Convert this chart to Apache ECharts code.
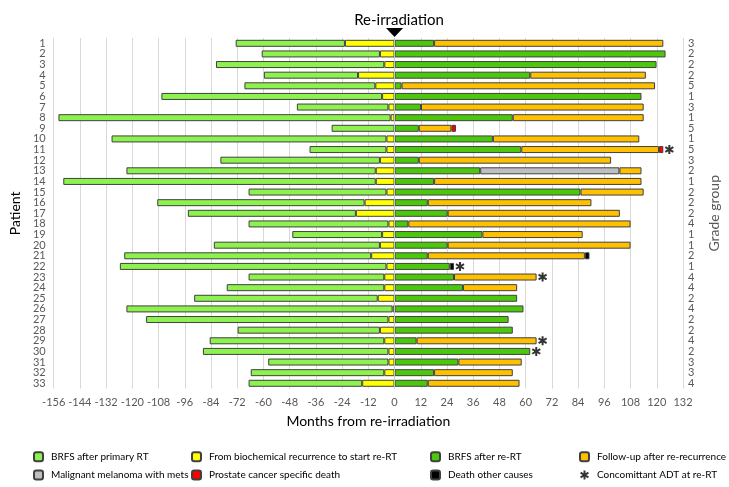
<!DOCTYPE html>
<html>
<head>
<meta charset="utf-8">
<script src="https://cdn.jsdelivr.net/npm/echarts@6/dist/echarts.min.js"></script>
<style>html,body{margin:0;padding:0;background:#fff}#c{width:729px;height:487px}</style>
</head>
<body>
<div id="c"></div>
<script>
// ---- data (months) ----
const patients = ['1','2','3','4','5','6','7','8','9','10','11','12','13','14','15','16','17','18','19','20','21','22','23','24','25','26','27','28','29','30','31','32','33'];
const gradeGroup = [3,2,2,2,5,1,3,1,5,1,5,3,2,1,2,2,2,4,1,1,2,1,4,4,2,4,2,2,4,2,3,3,4];
// durations before re-irradiation
const brfsPrimary = [50,54.1,77,43.1,59.9,101,41.9,152,28.8,125.8,35.2,73,114.1,143,63.1,94.9,76.9,64,41.1,76,113,122,62.1,72.1,84,121.8,110.9,65.1,79.9,84.9,55,61.1,52];
const recurToReRT = [22.7,6.7,4.7,16.7,8.8,5.7,2.8,1.8,0,3.7,3.7,6.7,8.6,8.6,3.7,13.7,17.7,2.8,5.7,6.7,10.7,3.7,4.7,4.7,7.7,0.9,2.8,6.7,4.7,2.8,2.8,4.7,14.8];
// durations after re-irradiation
const brfsReRT = [18.1,124,119.9,62.1,3.2,113,12.1,54.1,11.1,45,58,11.1,39.2,18.1,85.1,15.2,24.3,6.3,40.2,24.3,15.2,25.3,27.2,31.3,56.1,59,52.2,54.1,10.1,62.1,29.2,18.1,15.2];
const melanoma = [0,0,0,0,0,0,0,0,0,0,0,0,63.7,0,0,0,0,0,0,0,0,0,0,0,0,0,0,0,0,0,0,0,0];
const followUp = [104.9,0,0,52.9,116,0,101.9,59.9,14.9,67,63,88,10.1,94.9,28.9,74.9,78.8,101.7,45.9,83.7,71.9,0,37.8,24.8,0,0,0,0,54.9,0,29,36,42];
const pcDeath = [0,0,0,0,0,0,0,0,2.1,0,2,0,0,0,0,0,0,0,0,0,0,0,0,0,0,0,0,0,0,0,0,0,0];
const otherDeath = [0,0,0,0,0,0,0,0,0,0,0,0,0,0,0,0,0,0,0,0,2.1,1.9,0,0,0,0,0,0,0,0,0,0,0];
const adtPatients = ['11','22','23','29','30'];
const xTicks = {min:-156, max:132, interval:12};

const FONT = "Lato, 'Open Sans', sans-serif";
const nz = v => v === 0 ? null : v;
const border = {borderColor:'#404040', borderWidth:1};
const ASTER = 'path://M4.2,-3.9L5.4,-1.8L-4.2,3.9L-5.4,1.8Z M-5.4,-1.8L-4.2,-3.9L5.4,1.8L4.2,3.9Z M-1.2,-5.5L1.2,-5.5L1.2,5.5L-1.2,5.5Z';

function barSeries(name, arr, color, neg) {
  return {
    name: name, type: 'bar', stack: 'all', barWidth: 7,
    itemStyle: Object.assign({color: color}, border),
    emphasis: {disabled: true},
    data: arr.map(v => nz(v) === null ? null : (neg ? -v : v))
  };
}
const endAfter = patients.map((p,i) => brfsReRT[i]+melanoma[i]+followUp[i]+pcDeath[i]+otherDeath[i]);

const series = [
  barSeries('From biochemical recurrence to start re-RT', recurToReRT, '#ffff00', true),
  barSeries('BRFS after primary RT', brfsPrimary, '#8ef24e', true),
  barSeries('BRFS after re-RT', brfsReRT, '#4cc80c', false),
  barSeries('Malignant melanoma with mets', melanoma, '#bfbfbf', false),
  barSeries('Follow-up after re-recurrence', followUp, '#ffc000', false),
  barSeries('Prostate cancer specific death', pcDeath, '#ff0000', false),
  barSeries('Death other causes', otherDeath, '#000000', false),
  {
    name: 'Concomittant ADT at re-RT', type: 'scatter',
    symbol: ASTER, symbolSize: 9, symbolOffset: [6, 0],
    itemStyle: {color: '#000', borderWidth: 0},
    data: adtPatients.map(p => [endAfter[patients.indexOf(p)], p]),
    markLine: {
      silent: true, symbol: ['none','none'], z: 10,
      lineStyle: {color: '#c8c8c8', width: 1, type: 'solid'},
      label: {show: false},
      data: [{xAxis: 0}]
    },
    markPoint: {
      silent: true, symbol: 'triangle', symbolRotate: 180, symbolSize: [17, 9],
      symbolOffset: [0, -10.8], itemStyle: {color: '#000'}, label: {show: false},
      data: [{coord: [0, patients[0]]}]
    }
  }
];

function legendCol(left, names) {
  return {
    left: left, top: 449.7, height: 37, padding: 0, orient: 'vertical', itemGap: 4.3,
    itemWidth: 9, itemHeight: 9, selectedMode: false,
    textStyle: {fontFamily: FONT, fontSize: 10, color: '#000', padding: [0,0,0,3], lineHeight: 14},
    data: names.map(n => n === 'Concomittant ADT at re-RT' ? {name: n, icon: ASTER} : n)
  };
}

const chart = echarts.init(document.getElementById('c'), null, {renderer: 'canvas'});
chart.setOption({
  animation: false,
  textStyle: {fontFamily: FONT},
  title: {text: 'Re-irradiation', left: 394, top: 8, textAlign: 'center',
          textStyle: {fontFamily: FONT, fontSize: 15, fontWeight: 'normal', color: '#000'}},
  grid: {left: 39, right: 34, top: 38, bottom: 98.4},
  legend: [
    legendCol(33, ['BRFS after primary RT', 'Malignant melanoma with mets']),
    legendCol(191, ['From biochemical recurrence to start re-RT', 'Prostate cancer specific death']),
    legendCol(430, ['BRFS after re-RT', 'Death other causes']),
    legendCol(579, ['Follow-up after re-recurrence', 'Concomittant ADT at re-RT'])
  ],
  xAxis: {
    type: 'value', min: xTicks.min, max: xTicks.max, interval: xTicks.interval,
    name: 'Months from re-irradiation', nameLocation: 'middle', nameGap: 26,
    nameTextStyle: {fontFamily: FONT, fontSize: 14, color: '#000'},
    axisLine: {show: false}, axisTick: {show: false},
    axisLabel: {fontFamily: FONT, fontSize: 11, color: '#595959', margin: 8},
    splitLine: {show: true, lineStyle: {color: '#d9d9d9', width: 1}}
  },
  yAxis: [
    {
      type: 'category', data: patients, inverse: true, position: 'left',
      name: 'Patient', nameLocation: 'middle', nameGap: 30, nameRotate: 90,
      nameTextStyle: {fontFamily: FONT, fontSize: 14, color: '#000'},
      axisLine: {show: false}, axisTick: {show: false},
      axisLabel: {fontFamily: FONT, fontSize: 11, color: '#595959', margin: 8, interval: 0}
    },
    {
      type: 'category', data: patients, inverse: true, position: 'right',
      name: 'Grade group', nameLocation: 'middle', nameGap: 24, nameRotate: 90,
      nameTextStyle: {fontFamily: FONT, fontSize: 14, color: '#595959'},
      axisLine: {show: false}, axisTick: {show: false},
      axisLabel: {fontFamily: FONT, fontSize: 11, color: '#595959', margin: 5, interval: 0,
                  formatter: (v, i) => String(gradeGroup[i])}
    }
  ],
  series: series
});
</script>
</body>
</html>
